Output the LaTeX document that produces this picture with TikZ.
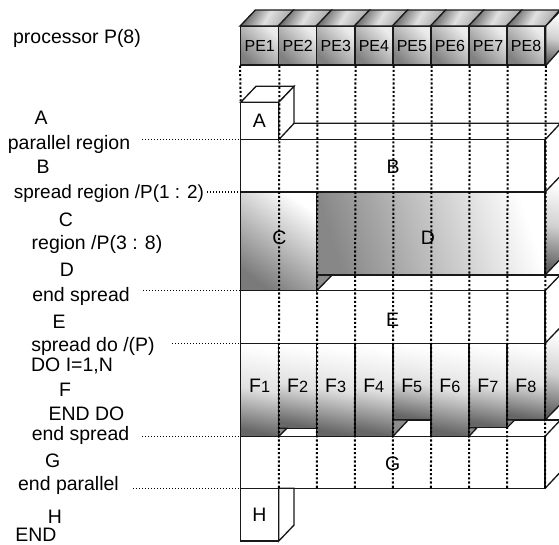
\documentclass[tikz,border=0pt]{standalone}
\usepackage{fontspec}
\setmainfont{Liberation Sans}
\usetikzlibrary{positioning,calc}

\begin{document}
\begin{tikzpicture}[
    x=0.75pt, y=-0.75pt,
    solid line/.style={draw=black!90, line width=1pt},
    facebox/.style={solid line, bottom color=black!52, top color=white, shading angle=-35},
    widebox/.style={solid line, bottom color=black!47, top color=white, shading angle=-72},
    barbox/.style={solid line, top color=white, bottom color=black!60, middle color=black!12, shading angle=-10},
    sidebox/.style={solid line, top color=white, bottom color=black!62, middle color=black!18, shading angle=-12},
    pebox/.style={solid line, bottom color=black!50, top color=black!8, shading angle=-45, minimum width=28.54pt, minimum height=28.7pt, inner sep=0pt, font=\fontsize{12pt}{13pt}\selectfont},
    petop/.style={solid line, left color=black!62, right color=black!35, middle color=black!12, shading angle=60},
    dotv/.style={line width=1.5pt, dash pattern=on 1.6pt off 1.55pt, black},
    doth/.style={line width=1.15pt, dash pattern=on 1.1pt off 1.15pt, black},
    src/.style={anchor=base, inner sep=0pt, font=\fontsize{14.6pt}{15pt}\selectfont},
    reg/.style={anchor=base, inner sep=0pt, font=\fontsize{14.6pt}{15pt}\selectfont}
]
\useasboundingbox (0,0) rectangle (559,544);

% columns and rows
\foreach \i in {0,...,8} \coordinate (c\i) at ({240.7+38.05*\i},0);
\coordinate (rA) at (0,102.3);
\coordinate (rB) at (0,139.7);
\coordinate (rC) at (0,192);
\coordinate (rD) at (0,275);
\coordinate (rE) at (0,290.7);
\coordinate (rF) at (0,343.3);
\coordinate (rG) at (0,436.3);
\coordinate (rH) at (0,488.3);
\coordinate (rEnd) at (0,541);

% processors
\foreach \a/\b in {1/0,2/1,3/2,4/3,5/4,6/5,7/6,8/7} {
  \node[pebox] (pe\a) at ({259.72+38.05*\b},45.85) {PE\a};
  \draw[petop] (pe\a.north west) -- ++(15.3,-16) -- ++(38.05,0) -- (pe\a.north east) -- cycle;
}
\draw[sidebox] (pe8.north east) -- ++(15.3,-16) -- ++(0,38.3) -- (pe8.south east) -- cycle;

% block A
\draw[solid line, fill=white] (c0 |- rA) rectangle (c1 |- rB);
\draw[solid line, fill=white] (c0 |- rA) -- ++(15.3,-16) -- ++(38.05,0) -- (c1 |- rA) -- cycle;
\draw[solid line, fill=white] (c1 |- rA) -- ++(15.3,-16) -- ++(0,37) -- (c1 |- rB) -- cycle;
\coordinate (backB) at ($(c1 |- rB)+(15.3,-16.4)$);
\draw[solid line] (backB) -- (560,123.3);

% regions B to E
\draw[solid line] (c0 |- rB) rectangle (c8 |- rC);
\draw[solid line] (c8 |- rB) -- ++(15.3,-16.4);
\draw[sidebox] (c8 |- rC) -- ++(15.3,-16) -- ++(0,83) -- (c8 |- rD) -- cycle;
\draw[solid line, fill=black!45] (c2 |- rD) -- ++(15.3,0) -- (c2 |- rE) -- cycle;
\draw[facebox] (c0 |- rC) rectangle (c2 |- rE);
\draw[widebox] (c2 |- rC) rectangle (c8 |- rD);
\draw[solid line] (c2 |- rD) -- (560,275);
\draw[solid line] (c0 |- rE) rectangle (c8 |- rF);
\draw[solid line] (c8 |- rE) -- ++(15.3,-16);

% region F
\draw[solid line] (c0 |- rG) rectangle (c8 |- rH);
\draw[solid line] (c8 |- rG) -- ++(15.3,-16.3);
\draw[solid line] (c7 |- 0,420) -- (560,420);
\draw[solid line] (c8 |- rH) -- ++(15.3,-16.3);
\draw[sidebox] (c8 |- rF) -- ++(15.3,-16) -- ++(0,77) -- (c8 |- 0,420) -- cycle;
\foreach \a/\b/\yb in {0/1/436.3,1/2/428.3,2/3/436.3,3/4/436.3,4/5/420,5/6/436.3,6/7/427.7,7/8/420} {
  \draw[barbox] (c\a |- rF) rectangle (c\b |- 0,\yb);
}
\foreach \a/\yb/\yt/\dx in {1/436.3/428.3/8,4/436.3/420/15.3,6/436.3/427.7/8,7/427.7/420/7.7} {
  \draw[solid line, fill=black!45] (c\a |- 0,\yt) -- ++(\dx,0) -- (c\a |- 0,\yb) -- cycle;
}

% block H
\draw[solid line, fill=white] (c0 |- rH) rectangle (c1 |- rEnd);
\draw[solid line, fill=white] (c1 |- rH) -- ++(15.3,0) -- ++(0,36.7) -- (c1 |- rEnd) -- cycle;

% processor lines
\foreach \i in {1,...,8} \draw[dotv] (pe\i.south east) -- (c\i |- rH);
\draw[dotv] (pe1.south west) -- (c0 |- rA);

% labels in the blocks
\node[reg] (lblA) at (259.3,127.3) {A};
\node[reg] (lblB) at (393,173.3) {B};
\node[reg] (lblC) at (279.3,244.3) {C};
\node[reg] (lblD) at (428,244.5) {D};
\node[reg] (lblE) at (392.7,326) {E};
\foreach \a/\b in {1/0,2/1,3/2,4/3,5/4,6/5,7/6,8/7}
  \node[reg] (lblF\a) at ({259.6+38.05*\b},392) {F{\fontsize{12.2pt}{13pt}\selectfont\a}};
\node[reg] (lblG) at (392.7,470.7) {G};
\node[reg] (lblH) at (259.3,521.7) {H};

% program text
\node[src] (proc) at (77,43) {processor P(8)};
\node[src] (txtA) at (41,124.7) {A};
\node[src] (txtpar) at (69,149) {parallel region};
\node[src] (txtB) at (43,173) {B};
\node[src, font=\fontsize{14.2pt}{15pt}\selectfont] (txtspr) at (109,198) {spread region /P(1 : 2)};
\node[src] (txtC) at (66,226) {C};
\node[src] (txtreg) at (97,249) {region /P(3 : 8)};
\node[src] (txtD) at (67,276.7) {D};
\node[src] (txtendspr) at (81,301.7) {end spread};
\node[src] (txtE) at (59,328) {E};
\node[src] (txtdo) at (93,351.7) {spread do /(P)};
\node[src] (txtDO) at (72,371) {DO I=1,N};
\node[src] (txtF) at (65,396.7) {F};
\node[src] (txtENDDO) at (86.5,420) {END DO};
\node[src] (txtendspr2) at (80.5,440) {end spread};
\node[src] (txtG) at (52.7,467) {G};
\node[src] (txtendpar) at (68.5,490.7) {end parallel};
\node[src] (txtH) at (55,523) {H};
\node[src] (txtEND) at (36,541.5) {END};

% leaders
\coordinate (leadB) at (142,0);
\coordinate (leadC) at (207,0);
\coordinate (leadE) at (143,0);
\coordinate (leadF) at (172,0);
\coordinate (leadG) at (142,0);
\coordinate (leadH) at (133,0);
\draw[doth] (leadB |- rB) -- (c0 |- rB);
\draw[doth] (leadC |- rC) -- (c0 |- rC);
\draw[doth] (leadE |- rE) -- (c0 |- rE);
\draw[doth] (leadF |- rF) -- (c0 |- rF);
\draw[doth] (leadG |- rG) -- (c0 |- rG);
\draw[doth] (leadH |- rH) -- (c0 |- rH);
\end{tikzpicture}
\end{document}
